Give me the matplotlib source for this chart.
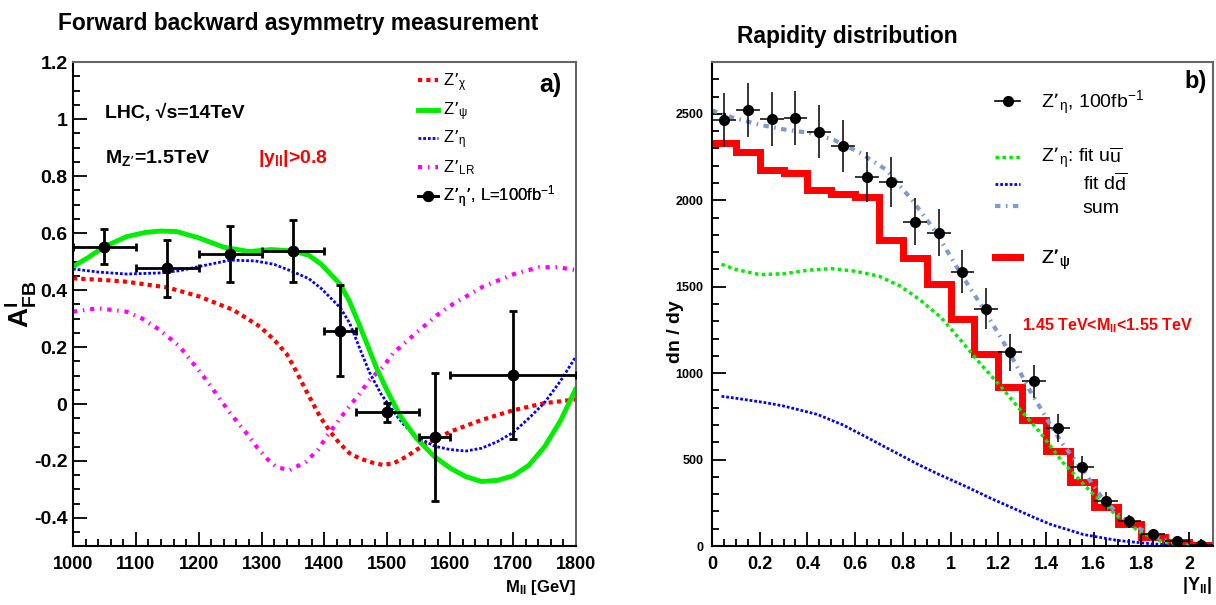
import numpy as np
import matplotlib.pyplot as plt
from matplotlib.lines import Line2D
from matplotlib.ticker import MultipleLocator

plt.rcParams['font.family'] = ['Liberation Sans', 'DejaVu Sans']
plt.rcParams['mathtext.default'] = 'regular'

# ---------------- panel a) forward backward asymmetry ----------------
mass_pts = [1050, 1150, 1250, 1350, 1425, 1500, 1575, 1700]
mass_err = [50, 50, 50, 50, 25, 50, 25, 100]
afb_pts = [0.552, 0.476, 0.526, 0.537, 0.257, -0.029, -0.115, 0.102]
afb_err = [0.062, 0.10, 0.097, 0.11, 0.16, 0.033, 0.225, 0.225]

chi_m = [1000, 1050, 1085, 1150, 1200, 1255, 1297, 1320, 1340, 1355, 1370, 1393,
         1410, 1424, 1440, 1456, 1475, 1493, 1510, 1530, 1557, 1580, 1600, 1650,
         1700, 1750, 1800]
chi_afb = [0.441, 0.435, 0.429, 0.409, 0.378, 0.330, 0.272, 0.225, 0.175, 0.115,
           0.050, -0.045, -0.100, -0.138, -0.173, -0.191, -0.205, -0.214, -0.208,
           -0.185, -0.145, -0.120, -0.097, -0.056, -0.022, 0.003, 0.016]

psi_m = [1000, 1025, 1050, 1085, 1115, 1140, 1165, 1200, 1240, 1280, 1315, 1350,
         1375, 1395, 1425, 1440, 1456, 1483, 1500, 1520, 1546, 1575, 1600, 1625,
         1650, 1675, 1700, 1725, 1750, 1775, 1800]
psi_afb = [0.482, 0.515, 0.552, 0.587, 0.602, 0.607, 0.605, 0.583, 0.550, 0.535,
           0.542, 0.537, 0.522, 0.490, 0.420, 0.359, 0.275, 0.125, 0.045, -0.040,
           -0.120, -0.185, -0.225, -0.255, -0.272, -0.268, -0.252, -0.215, -0.150,
           -0.060, 0.055]

eta_m = [1000, 1040, 1085, 1140, 1170, 1200, 1250, 1290, 1320, 1350, 1375, 1395,
         1425, 1440, 1456, 1472, 1490, 1505, 1525, 1546, 1575, 1600, 1625, 1650,
         1675, 1700, 1725, 1750, 1775, 1800]
eta_afb = [0.474, 0.463, 0.456, 0.460, 0.468, 0.482, 0.505, 0.502, 0.490, 0.464,
           0.440, 0.405, 0.338, 0.284, 0.195, 0.109, 0.035, -0.012, -0.070, -0.115,
           -0.148, -0.160, -0.165, -0.155, -0.132, -0.100, -0.050, 0.005, 0.080,
           0.167]

lr_m = [1000, 1040, 1085, 1110, 1138, 1170, 1210, 1250, 1275, 1292, 1310, 1324,
        1345, 1371, 1390, 1403, 1420, 1435, 1456, 1472, 1493, 1509, 1546, 1578,
        1600, 1652, 1705, 1742, 1770, 1800]
lr_afb = [0.324, 0.336, 0.324, 0.300, 0.260, 0.201, 0.090, -0.032, -0.100, -0.150,
          -0.195, -0.222, -0.232, -0.202, -0.160, -0.115, -0.065, -0.021, 0.037,
          0.085, 0.130, 0.178, 0.250, 0.310, 0.345, 0.412, 0.459, 0.480, 0.480,
          0.470]

afb_ticks = [-0.4, -0.2, 0, 0.2, 0.4, 0.6, 0.8, 1.0, 1.2]
afb_labels = ['-0.4', '-0.2', '0', '0.2', '0.4', '0.6', '0.8', '1', '1.2']
mass_ticks = [1000, 1100, 1200, 1300, 1400, 1500, 1600, 1700, 1800]

# ---------------- panel b) rapidity distribution ----------------
y_centres = [0.05, 0.15, 0.25, 0.35, 0.45, 0.55, 0.65, 0.75, 0.85, 0.95, 1.05,
             1.15, 1.25, 1.35, 1.45, 1.55, 1.65, 1.75, 1.85, 1.95, 2.05]
dndy_pts = [2465, 2523, 2471, 2477, 2396, 2315, 2136, 2107, 1876, 1813, 1588,
            1374, 1120, 953, 681, 456, 260, 144, 70, 30, 6]
dndy_err = [156, 158, 157, 157, 154, 152, 146, 145, 136, 134, 126, 117, 105, 97,
            82, 67, 51, 38, 26, 17, 8]

bin_edges = [0.0, 0.1, 0.2, 0.3, 0.4, 0.5, 0.6, 0.7, 0.8, 0.9, 1.0, 1.1, 1.2,
             1.3, 1.4, 1.5, 1.6, 1.7, 1.8, 1.9, 2.0, 2.1]
psi_hist = [2333, 2281, 2177, 2159, 2061, 2038, 2021, 1773, 1669, 1513, 1311,
            1109, 918, 727, 549, 370, 225, 127, 52, 23, 6]

uu_y = [0.04, 0.1, 0.2, 0.3, 0.4, 0.5, 0.6, 0.7, 0.79, 0.87, 0.96, 1.04, 1.12,
        1.21, 1.29, 1.375, 1.47, 1.585, 1.70, 1.795, 1.89, 2.0]
uu_fit = [1630, 1600, 1570, 1575, 1595, 1605, 1590, 1561, 1503, 1426, 1322, 1195,
          1062, 924, 791, 658, 485, 318, 173, 81, 23, 3]

dd_y = [0.04, 0.1, 0.23, 0.3, 0.44, 0.55, 0.65, 0.75, 0.86, 0.95, 1.07, 1.17,
        1.28, 1.35, 1.42, 1.556, 1.70, 1.84, 1.95]
dd_fit = [866, 855, 828, 810, 762, 700, 628, 555, 475, 415, 341, 275, 208, 165,
          125, 67, 32, 13, 3]

sum_y = [0.0, 0.09, 0.2, 0.31, 0.41, 0.51, 0.62, 0.73, 0.84, 0.94, 1.04, 1.14,
         1.24, 1.33, 1.43, 1.47, 1.56, 1.63, 1.71, 1.795, 1.88, 1.97]
sum_fit = [2520, 2477, 2437, 2408, 2390, 2350, 2275, 2177, 2000, 1813, 1582, 1368,
           1137, 906, 675, 590, 427, 289, 173, 98, 40, 12]

rap_ticks = [0, 0.2, 0.4, 0.6, 0.8, 1.0, 1.2, 1.4, 1.6, 1.8, 2.0]
rap_labels = ['0', '0.2', '0.4', '0.6', '0.8', '1', '1.2', '1.4', '1.6', '1.8', '2']
dndy_ticks = [0, 500, 1000, 1500, 2000, 2500]

red, green, blue, magenta = '#ff0000', '#00ee00', '#0000ff', '#ff00ff'
sumcol = '#7f9ad0'


def style(ax):
    for s in ['left', 'bottom']:
        ax.spines[s].set_color('black')
        ax.spines[s].set_linewidth(1.5)
    for s in ['top', 'right']:
        ax.spines[s].set_color('#666666')
        ax.spines[s].set_linewidth(1.5)
    ax.tick_params(which='both', direction='in', top=False, right=False, width=1.3)
    ax.tick_params(which='major', length=10)
    ax.tick_params(which='minor', length=5)


def key(ax, handle, label, x, y, fs, hl, pad):
    leg = ax.legend([handle], [label], loc='center left', bbox_to_anchor=(x, y),
                    frameon=False, fontsize=fs, handlelength=hl, handletextpad=pad,
                    borderpad=0, borderaxespad=0)
    ax.add_artist(leg)


fig = plt.figure(figsize=(12.16, 6.05), dpi=100)

# ---- left panel
ax1 = fig.add_axes([0.060, 0.0967, 0.4137, 0.8008])
ls_chi = (0, (1, 1))
ls_eta = (0, (1, 0.7))
ls_lr = (0, (1.0, 1.4, 0.35, 1.4))
ax1.plot(chi_m, chi_afb, color=red, lw=3, ls=ls_chi)
ax1.plot(lr_m, lr_afb, color=magenta, lw=3, ls=ls_lr)
ax1.plot(eta_m, eta_afb, color=blue, lw=2, ls=ls_eta)
ax1.plot(psi_m, psi_afb, color=green, lw=3.5, solid_capstyle='round')
ax1.errorbar(mass_pts, afb_pts, xerr=mass_err, yerr=afb_err, fmt='o', color='black',
             ms=7.5, elinewidth=2, capsize=3, capthick=2, zorder=5)
ax1.set_xlim(1000, 1800)
ax1.set_ylim(-0.5, 1.2)
style(ax1)
ax1.set_xticks(mass_ticks, labels=[str(m) for m in mass_ticks], fontsize=13,
               fontweight='bold')
ax1.set_yticks(afb_ticks, labels=afb_labels, fontsize=14, fontweight='bold')
ax1.xaxis.set_minor_locator(MultipleLocator(20))
ax1.yaxis.set_minor_locator(MultipleLocator(0.05))
ax1.tick_params(axis='x', pad=7)
ax1.tick_params(axis='y', pad=4)

key(ax1, Line2D([], [], color=red, lw=3, ls=ls_chi), 'Z’$_{\\chi}$', 0.686, 0.958, 12, 1.2, 0.3)
key(ax1, Line2D([], [], color=green, lw=3.5), 'Z’$_{\\psi}$', 0.686, 0.897, 12, 1.2, 0.3)
key(ax1, Line2D([], [], color=blue, lw=2, ls=ls_eta), 'Z’$_{\\eta}$', 0.686, 0.839, 12, 1.2, 0.3)
key(ax1, Line2D([], [], color=magenta, lw=3, ls=ls_lr), 'Z’$_{LR}$', 0.686, 0.781, 12, 1.2, 0.3)
key(ax1, Line2D([], [], color='black', lw=2, marker='o', ms=7),
    'Z’$_{\\eta}$’, L=100fb$^{-1}$', 0.686, 0.721, 12, 1.2, 0.3)

ax1.text(0.064, 0.884, 'LHC, √s=14TeV', transform=ax1.transAxes, fontsize=14,
         fontweight='bold', va='baseline')
ax1.text(0.064, 0.792, 'M$_{Z’}$=1.5TeV', transform=ax1.transAxes, fontsize=14,
         fontweight='bold', va='baseline')
ax1.text(0.368, 0.792, '|y$_{ll}$|>0.8', transform=ax1.transAxes, fontsize=14,
         fontweight='bold', color=red, va='baseline')
ax1.text(0.972, 0.938, 'a)', transform=ax1.transAxes, fontsize=18,
         fontweight='bold', ha='right', va='baseline')

fig.text(58 / 1216, 1 - 30 / 605, 'Forward backward asymmetry measurement',
         fontsize=16.4, fontweight='bold', va='baseline')
fig.text(576 / 1216, 1 - 592 / 605, 'M$_{ll}$ [GeV]', fontsize=12,
         fontweight='bold', ha='right', va='baseline')
fig.text(20 / 1216, 1 - 304 / 605, 'A$^{l}_{FB}$', fontsize=20, fontweight='bold',
         rotation=90, ha='center', va='center')

# ---- right panel
ax2 = fig.add_axes([0.5855, 0.0975, 0.412, 0.80])
ls_uu = (0, (1, 1))
ls_dd = (0, (1, 0.7))
ls_sum = (0, (1.3, 1.3, 0.4, 1.3))
ax2.plot(dd_y, dd_fit, color=blue, lw=2, ls=ls_dd)
ax2.plot(uu_y, uu_fit, color=green, lw=2.5, ls=ls_uu)
ax2.stairs(psi_hist, bin_edges, baseline=None, color=red, lw=5)
ax2.plot(sum_y, sum_fit, color=sumcol, lw=3, ls=ls_sum)
ax2.errorbar(y_centres, dndy_pts, xerr=0.05, yerr=dndy_err, fmt='o', color='black',
             ms=7, elinewidth=1.1, capsize=0, zorder=5)
ax2.set_xlim(0, 2.1)
ax2.set_ylim(0, 2800)
style(ax2)
ax2.set_xticks(rap_ticks, labels=rap_labels, fontsize=13, fontweight='bold')
ax2.set_yticks(dndy_ticks, labels=[str(t) for t in dndy_ticks], fontsize=9,
               fontweight='bold')
ax2.xaxis.set_minor_locator(MultipleLocator(0.05))
ax2.yaxis.set_minor_locator(MultipleLocator(100))
ax2.tick_params(axis='x', pad=7)
ax2.tick_params(axis='y', pad=6)

key(ax2, Line2D([], [], color='black', lw=1.2, marker='o', ms=7),
    'Z’$_{\\eta}$, 100fb$^{-1}$', 0.565, 0.915, 14, 1.3, 1.05)
key(ax2, Line2D([], [], color=green, lw=2.5, ls=ls_uu),
    'Z’$_{\\eta}$: fit u$\\overline{u}$', 0.565, 0.800, 14, 1.3, 1.05)
key(ax2, Line2D([], [], color=blue, lw=2, ls=ls_dd),
    'fit d$\\overline{d}$', 0.565, 0.750, 14, 1.3, 3.2)
key(ax2, Line2D([], [], color=sumcol, lw=3, ls=ls_sum), 'sum', 0.565, 0.698, 14, 1.3, 3.2)
key(ax2, Line2D([], [], color=red, lw=5), 'Z’$_{\\psi}$', 0.565, 0.591, 14, 1.3, 1.05)

ax2.text(0.988, 0.946, 'b)', transform=ax2.transAxes, fontsize=17,
         fontweight='bold', ha='right', va='baseline')
ax2.text(0.619, 0.446, '1.45 TeV<M$_{ll}$<1.55 TeV', transform=ax2.transAxes,
         fontsize=11.5, fontweight='bold', color=red, va='baseline')

fig.text(737 / 1216, 1 - 43 / 605, 'Rapidity distribution', fontsize=16.4,
         fontweight='bold', va='baseline')
fig.text(1212 / 1216, 1 - 590 / 605, '|Y$_{ll}$|', fontsize=13,
         fontweight='bold', ha='right', va='baseline')
fig.text(676 / 1216, 1 - 332 / 605, 'dn / dy', fontsize=14, fontweight='bold',
         rotation=90, ha='center', va='center')

fig.savefig('out.png', dpi=100)
